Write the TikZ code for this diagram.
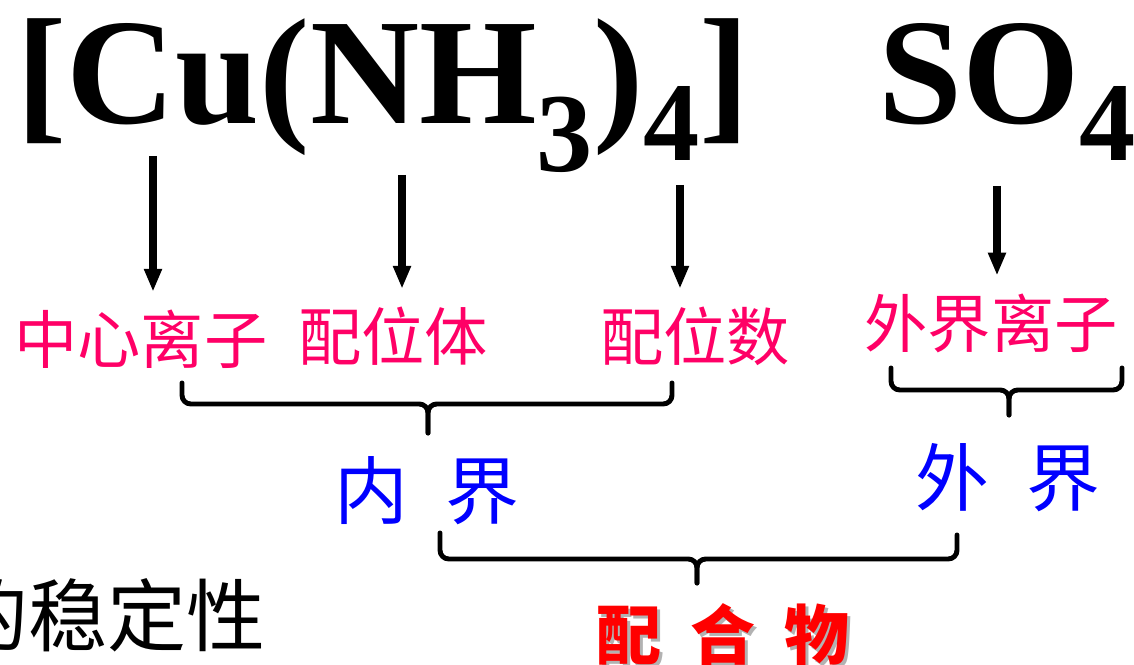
\documentclass[tikz,border=0pt]{standalone}
\usepackage{fontspec}
\newfontfamily\tnr{Liberation Serif}
\newfontfamily\cjk{Noto Sans CJK SC}
\usetikzlibrary{arrows.meta}
\definecolor{labpink}{RGB}{255,0,102}
\newcommand{\lowsub}[2]{\raisebox{-#1}{\fontsize{64}{64}\selectfont #2}}
\tikzset{
  formula/.style={inner sep=0pt,anchor=base west,font=\tnr\bfseries\fontsize{86}{86}\selectfont},
  lab/.style={inner sep=0pt,text=labpink,font=\cjk\fontsize{36}{36}\selectfont},
  part/.style={inner sep=0pt,text=blue,font=\cjk\fontsize{42}{42}\selectfont},
  arr/.style={line width=4pt,shorten >=10pt,-{Triangle[length=13pt,width=9.5pt]}},
  brc/.style={line width=2.8pt,rounded corners=5pt,line cap=round}
}
\begin{document}
\begin{tikzpicture}[x=0.02cm,y=-0.02cm]
\useasboundingbox (0,0) rectangle (1134,665);
% formula
\node[formula] (cpx) at (16,124) {[Cu(NH\lowsub{27pt}{3})\lowsub{21pt}{4}]};
\node[formula] (anion) at (878,124) {SO\lowsub{21pt}{4}};
% labels
\node[lab] (cen) at (141,339) {中心离子};
\node[lab] (lig) at (393,336) {配位体};
\node[lab] (num) at (695,336) {配位数};
\node[lab] (oution) at (991,323) {外界离子};
\node[part] (inner) at (427,491) {内\hspace{0.5em}界};
\node[part] (outer) at (1008,478) {外\hspace{0.5em}界};
\node[inner sep=0pt,text=gray!60,font=\cjk\bfseries\fontsize{37}{37}\selectfont] at (726,638) {配\hspace{0.45em}合\hspace{0.45em}物};
\node[inner sep=0pt,text=red,font=\cjk\bfseries\fontsize{37}{37}\selectfont] (cmpd) at (723,635) {配\hspace{0.45em}合\hspace{0.45em}物};
\node[inner sep=0pt,anchor=east,font=\cjk\fontsize{45}{45}\selectfont] (stab) at (266,615) {的稳定性};
% arrows
\coordinate (c1) at (153,156);
\coordinate (c2) at (402,175);
\coordinate (c3) at (680,185);
\coordinate (c4) at (997,186);
\draw[arr] (c1) -- (c1 |- cen.north);
\draw[arr] (c2) -- (c2 |- lig.north);
\draw[arr] (c3) -- (c3 |- num.north);
\draw[arr] (c4) -- (c4 |- oution.north);
% braces
\draw[brc] (182,383) |- (428,404) -- (428,433);
\draw[brc] (672,383) |- (428,404) -- (428,433);
\draw[brc] (891,368) |- (1009,390) -- (1009,415);
\draw[brc] (1122,368) |- (1009,390) -- (1009,415);
\draw[brc] (440,533) |- (697,559) -- (697,583);
\draw[brc] (957,535) |- (697,559) -- (697,583);
\end{tikzpicture}
\end{document}
